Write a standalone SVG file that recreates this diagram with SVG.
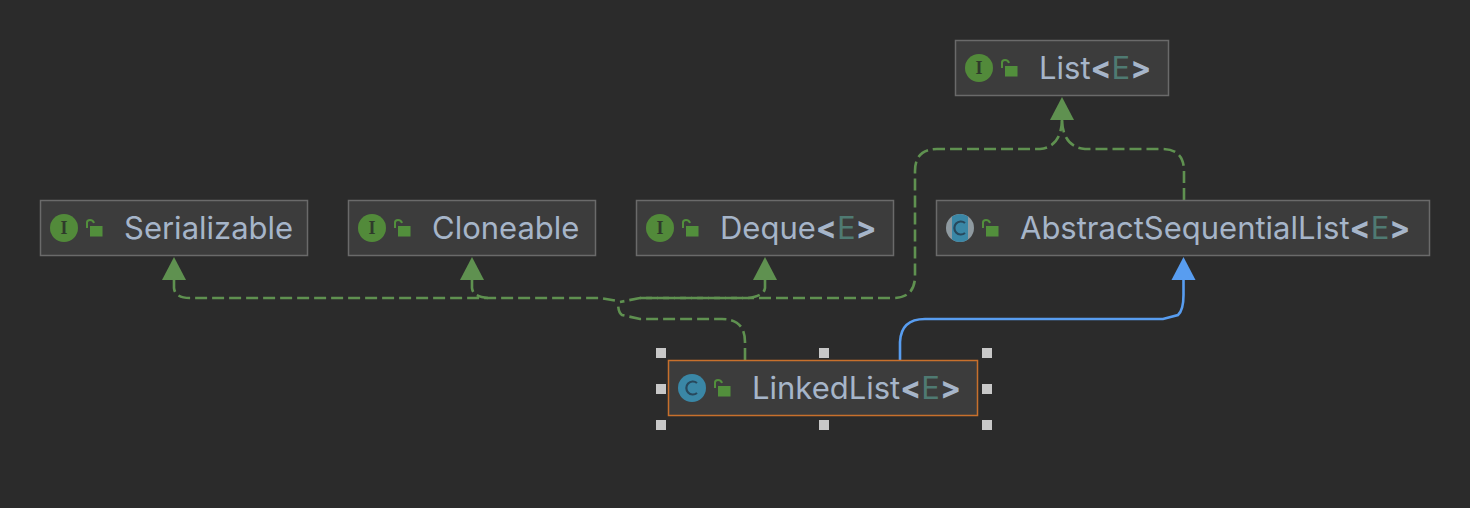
<svg xmlns="http://www.w3.org/2000/svg" width="1470" height="508" viewBox="0 0 1470 508">
<style>
.box{fill:#3c3c3c;stroke:#6a6a6a;stroke-width:1.5}
.sel{fill:#3c3c3c;stroke:#c8702c;stroke-width:1.5}
.t{font-family:"Inter","Liberation Sans",sans-serif;font-size:31px;fill:#a6b5c9}
.b{font-weight:700;fill:#a6b5c9}
.e{font-weight:400;fill:#4f7a72}
.ci{fill:#528a3a}
.cc{fill:#3a87a6}
.ig{font-family:"Liberation Serif",serif;font-size:18px;font-weight:700;fill:#2f3a2b;text-anchor:middle}
.cg{fill:none;stroke:#28485c;stroke-width:2.2}
.lock{fill:#528f3c}
.shackle{fill:none;stroke:#528f3c;stroke-width:2}
.dash{fill:none;stroke:#5f9150;stroke-width:2.6;stroke-dasharray:12 5}
.solid{fill:none;stroke:#589df0;stroke-width:2.6}
.ag{fill:#5f9150}
.ab{fill:#589df0}
.h{fill:#c8c8c8}
</style>
<defs>
<g id="lk"><path class="shackle" d="M1 8V2.500Q1 0 4 0Q7 0 8 3"/><rect class="lock" x="4" y="6" width="12.500" height="10.500"/></g>
</defs>
<rect width="1470" height="508" fill="#2b2b2b"/>
<g id="connectors">
<path class="dash" d="M745 360V342Q745 319 722 319H640L622 315Q618 313 618 302"/>
<path class="dash" d="M174 280V288Q175 298 190 298H600L618 301"/>
<path class="dash" d="M472 280V288Q473 297 488 298"/>
<path class="dash" d="M765 280V288Q764 296 748 298H640L620 302"/>
<path class="dash" d="M640 298H893Q915 298 915 276V171Q915 149 937 149H1040Q1061 147 1062 120"/>
<path class="dash" d="M1184 200V171Q1184 149 1162 149H1085Q1063 147 1062 120"/>
<path class="solid" d="M900 360V342Q901 319 925 319H1163L1178 315Q1183.500 310 1183.500 295V280"/>
<polygon class="ag" points="174,257 186,280 162,280"/>
<polygon class="ag" points="472,257 484,280 460,280"/>
<polygon class="ag" points="765,257 777,280 753,280"/>
<polygon class="ag" points="1062,97 1074,120 1050,120"/>
<polygon class="ab" points="1183.500,257 1195.500,280 1171.500,280"/>
</g>
<g id="node-list">
<rect class="box" x="955.500" y="40.500" width="213" height="55"/>
<circle class="ci" cx="979" cy="68" r="14"/><text class="ig" x="979" y="74">I</text>
<use href="#lk" x="1001" y="60"/>
<text class="t" x="1039" y="79">List<tspan class="b">&lt;</tspan><tspan class="e">E</tspan><tspan class="b">&gt;</tspan></text>
</g>
<g id="node-serializable">
<rect class="box" x="40.500" y="200.500" width="267" height="55"/>
<circle class="ci" cx="64" cy="228" r="14"/><text class="ig" x="64" y="234">I</text>
<use href="#lk" x="86" y="220"/>
<text class="t" x="124" y="239">Serializable</text>
</g>
<g id="node-cloneable">
<rect class="box" x="348.500" y="200.500" width="247" height="55"/>
<circle class="ci" cx="372" cy="228" r="14"/><text class="ig" x="372" y="234">I</text>
<use href="#lk" x="394" y="220"/>
<text class="t" x="432" y="239">Cloneable</text>
</g>
<g id="node-deque">
<rect class="box" x="636.500" y="200.500" width="257" height="55"/>
<circle class="ci" cx="660" cy="228" r="14"/><text class="ig" x="660" y="234">I</text>
<use href="#lk" x="682" y="220"/>
<text class="t" x="720" y="239">Deque<tspan class="b">&lt;</tspan><tspan class="e">E</tspan><tspan class="b">&gt;</tspan></text>
</g>
<g id="node-abstract">
<rect class="box" x="936.500" y="200.500" width="493" height="55"/>
<circle cx="960" cy="228" r="14" fill="#8f9aa0"/>
<path class="cc" d="M952 216.500A14 14 0 0 1 968 216.500V239.500A14 14 0 0 1 952 239.500Z"/>
<path class="cg" d="M965 223A6.500 6.500 0 1 0 965 233"/>
<use href="#lk" x="982" y="220"/>
<text class="t" x="1020" y="239">AbstractSequentialList<tspan class="b">&lt;</tspan><tspan class="e">E</tspan><tspan class="b">&gt;</tspan></text>
</g>
<g id="node-linkedlist">
<rect class="sel" x="668.500" y="360.500" width="309" height="55"/>
<circle class="cc" cx="692" cy="388" r="14"/>
<path class="cg" d="M697 383A6.500 6.500 0 1 0 697 393"/>
<use href="#lk" x="714" y="380"/>
<text class="t" x="752" y="399">LinkedList<tspan class="b">&lt;</tspan><tspan class="e">E</tspan><tspan class="b">&gt;</tspan></text>
</g>
<g id="selection-handles">
<rect class="h" x="656" y="348" width="10" height="10"/><rect class="h" x="819" y="348" width="10" height="10"/><rect class="h" x="982" y="348" width="10" height="10"/>
<rect class="h" x="656" y="384" width="10" height="10"/><rect class="h" x="982" y="384" width="10" height="10"/>
<rect class="h" x="656" y="420" width="10" height="10"/><rect class="h" x="819" y="420" width="10" height="10"/><rect class="h" x="982" y="420" width="10" height="10"/>
</g>
</svg>
